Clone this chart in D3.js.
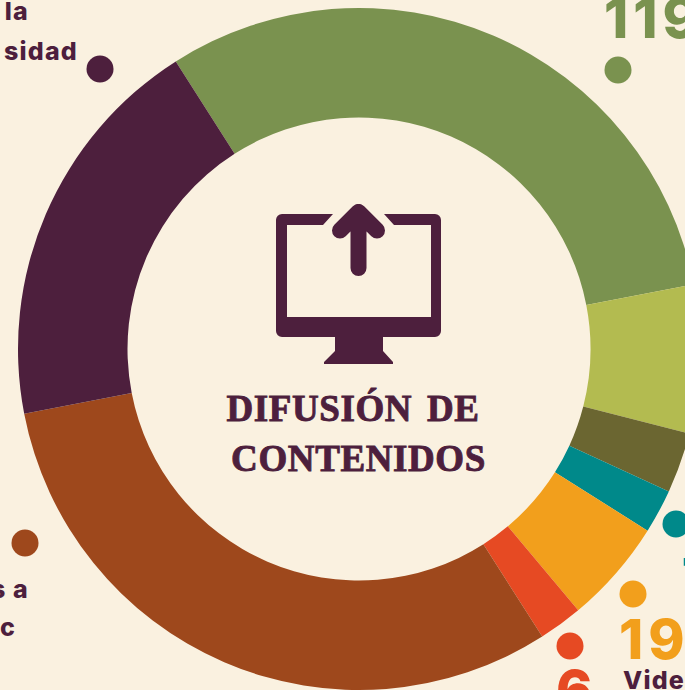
<!DOCTYPE html>
<html lang="es">
<head>
    <meta charset="UTF-8">
    <title>Difusión de contenidos</title>
    <script src="https://cdn.jsdelivr.net/npm/d3@7"></script>
    <style>
        html, body { margin: 0; padding: 0; background: #FAF1E0; overflow: hidden; }
        svg { display: block; }
    </style>
</head>
<body>
    <svg id="chart" width="685" height="690"></svg>
</body>
<script>
    // slice sizes are read from the ring. the printed red label says 6 but its slice is wider than that
    let categories = ["green", "lime", "olive", "teal", "orange", "red", "brown", "purple"]
    let values = [119, 27, 11, 8, 19, 8, 119, 73]
    let colors = ["#7A924F", "#B3BB50", "#6B6631", "#00898A", "#F29F1C", "#E64A23", "#9E481C", "#4D1F3D"]

    let dotCategories = ["purple", "green", "teal", "orange", "red", "brown"]
    let dotX = [100, 618, 676, 633, 570, 25]
    let dotY = [69, 70, 524, 594, 646, 543]

    // the teal number is cut by the edge, only a sliver of it shows
    let numberLabels = ["119", "7", "19", "6"]
    let numberColors = ["#7A924F", "#00898A", "#F29F1C", "#E64A23"]
    let numberX = [604, 682, 619, 556]
    let numberY = [38, 598, 659, 710]

    let nameLabels = ["la", "sidad", "s a", "c"]
    let nameX = [29, 78, 29, 16]
    let nameY = [20, 60, 598, 636]

    let titleLines = ["DIFUSIÓN DE", "CONTENIDOS"]
    let titleX = [353, 358.5]
    let titleY = [421, 471]

    let purple = "#4D1F3D"
    let svg = d3.select("#chart")
    let color = d3.scaleOrdinal().domain(categories).range(colors)

    let start = -32.5 * Math.PI / 180
    let pie = d3.pie().sort(null).startAngle(start).endAngle(start + 2 * Math.PI)
    let arc = d3.arc().innerRadius(231.5).outerRadius(341)

    let ring = svg.append("g").attr("transform", "translate(359,349)")
    ring.selectAll("path")
        .data(pie(values))
        .enter()
        .append("path")
        .attr("d", arc)
        .attr("fill", (d, i) => color(categories[i]))

    svg.selectAll("circle")
        .data(dotCategories)
        .enter()
        .append("circle")
        .attr("cx", (d, i) => dotX[i])
        .attr("cy", (d, i) => dotY[i])
        .attr("r", 13.5)
        .attr("fill", d => color(d))

    svg.selectAll(".number")
        .data(numberLabels)
        .enter()
        .append("text")
        .attr("class", "number")
        .attr("x", (d, i) => numberX[i])
        .attr("y", (d, i) => numberY[i])
        .attr("fill", (d, i) => numberColors[i])
        .attr("font-family", "Inter")
        .attr("font-weight", 800)
        .attr("font-size", 55)
        .attr("letter-spacing", 5)
        .text(d => d)

    svg.selectAll(".name")
        .data(nameLabels)
        .enter()
        .append("text")
        .attr("class", "name")
        .attr("x", (d, i) => nameX[i])
        .attr("y", (d, i) => nameY[i])
        .attr("text-anchor", "end")
        .attr("fill", purple)
        .attr("font-family", "Inter")
        .attr("font-weight", 800)
        .attr("font-size", 25)
        .attr("letter-spacing", 1.2)
        .text(d => d)

    svg.append("text")
        .attr("x", 623)
        .attr("y", 689)
        .attr("fill", purple)
        .attr("font-family", "Inter")
        .attr("font-weight", 800)
        .attr("font-size", 25)
        .attr("letter-spacing", 1.2)
        .text("Videos")

    svg.selectAll(".title")
        .data(titleLines)
        .enter()
        .append("text")
        .attr("class", "title")
        .attr("x", (d, i) => titleX[i])
        .attr("y", (d, i) => titleY[i])
        .attr("text-anchor", "middle")
        .attr("fill", purple)
        .attr("stroke", purple)
        .attr("stroke-width", 0.9)
        .attr("font-family", "Liberation Serif")
        .attr("font-weight", 700)
        .attr("font-size", 37)
        .attr("letter-spacing", 0.6)
        .attr("word-spacing", 5)
        .text(d => d)

    // monitor icon
    let icon = svg.append("g")
    let screen = d3.path()
    screen.moveTo(333, 214)
    screen.lineTo(282, 214)
    screen.arcTo(276, 214, 276, 220, 6)
    screen.lineTo(276, 331)
    screen.arcTo(276, 337, 282, 337, 6)
    screen.lineTo(335, 337)
    screen.lineTo(335, 351)
    screen.lineTo(324, 362)
    screen.lineTo(324, 364)
    screen.lineTo(393, 364)
    screen.lineTo(393, 362)
    screen.lineTo(383, 351)
    screen.lineTo(383, 337)
    screen.lineTo(435, 337)
    screen.arcTo(441, 337, 441, 331, 6)
    screen.lineTo(441, 220)
    screen.arcTo(441, 214, 435, 214, 6)
    screen.lineTo(384, 214)
    screen.lineTo(394, 225)
    screen.lineTo(431, 225)
    screen.lineTo(431, 317)
    screen.lineTo(287, 317)
    screen.lineTo(287, 225)
    screen.lineTo(323, 225)
    screen.closePath()
    icon.append("path").attr("d", screen.toString()).attr("fill", purple)

    let arrow = d3.path()
    arrow.moveTo(358.5, 268)
    arrow.lineTo(358.5, 212)
    arrow.moveTo(340, 230.5)
    arrow.lineTo(358.5, 212)
    arrow.lineTo(377, 230.5)
    icon.append("path")
        .attr("d", arrow.toString())
        .attr("fill", "none")
        .attr("stroke", purple)
        .attr("stroke-width", 16)
        .attr("stroke-linecap", "round")
        .attr("stroke-linejoin", "round")
</script>
</html>
